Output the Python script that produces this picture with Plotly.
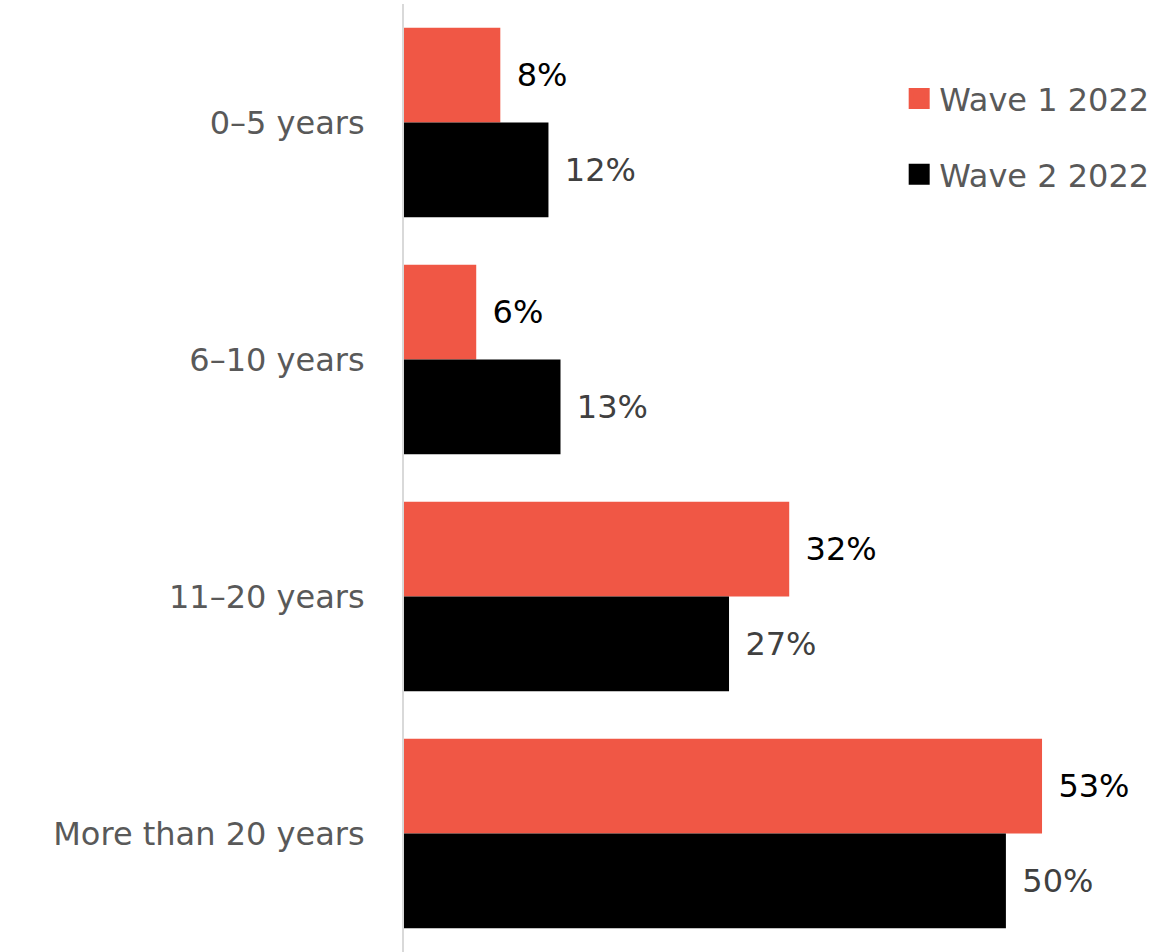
import plotly.graph_objects as go

categories = ["0–5 years", "6–10 years", "11–20 years", "More than 20 years"]
wave1 = [8, 6, 32, 53]
wave2 = [12, 13, 27, 50]
series_names = ["Wave 1 2022", "Wave 2 2022"]

RED = "#F05745"
BLACK = "#000000"
FONT = "DejaVu Sans"
FS = 32
PAD = "\u00a0\u200a"

fig = go.Figure()
fig.add_trace(go.Bar(
    y=categories, x=wave1, orientation="h", name=series_names[0],
    marker=dict(color=RED, line=dict(width=0)),
    text=[f"{PAD}{v}%" for v in wave1], textposition="outside",
    textfont=dict(family=FONT, size=FS, color="#000000"),
    cliponaxis=False, showlegend=False, hoverinfo="skip",
))
fig.add_trace(go.Bar(
    y=categories, x=wave2, orientation="h", name=series_names[1],
    marker=dict(color=BLACK, line=dict(width=0)),
    text=[f"{PAD}{v}%" for v in wave2], textposition="outside",
    textfont=dict(family=FONT, size=FS, color="#404040"),
    cliponaxis=False, showlegend=False, hoverinfo="skip",
))
# legend entries
for nm, col, grp in [(series_names[0], RED, "a"), (series_names[1], BLACK, "b")]:
    fig.add_trace(go.Scatter(
        x=[None], y=[None], mode="markers", name=nm, legendgroup=grp,
        marker=dict(symbol="square", size=16, color=col, line=dict(color=col, width=5)),
    ))

fig.update_layout(
    width=1168, height=952,
    margin=dict(l=404, r=8, t=4, b=0, autoexpand=False),
    paper_bgcolor="white", plot_bgcolor="white",
    barmode="group", bargap=0.2, bargroupgap=0,
    font=dict(family=FONT, size=FS, color="#595959"),
    showlegend=True,
    legend=dict(
        x=0.655, xanchor="left", y=0.929, yanchor="top",
        traceorder="grouped", tracegroupgap=31,
        font=dict(family=FONT, size=FS, color="#595959"),
        bgcolor="rgba(0,0,0,0)",
    ),
    xaxis=dict(range=[0, 62.8], visible=False, showgrid=False, zeroline=False),
    yaxis=dict(
        autorange="reversed", showgrid=False, zeroline=False, automargin=False,
        showline=True, linecolor="#d9d9d9", linewidth=2,
        ticks="", ticklabelstandoff=31,
        tickfont=dict(family=FONT, size=FS, color="#595959"),
    ),
)

fig.write_html(
    "out.html",
    config={"displayModeBar": False},
    post_script="document.body.style.margin='0px';",
)
